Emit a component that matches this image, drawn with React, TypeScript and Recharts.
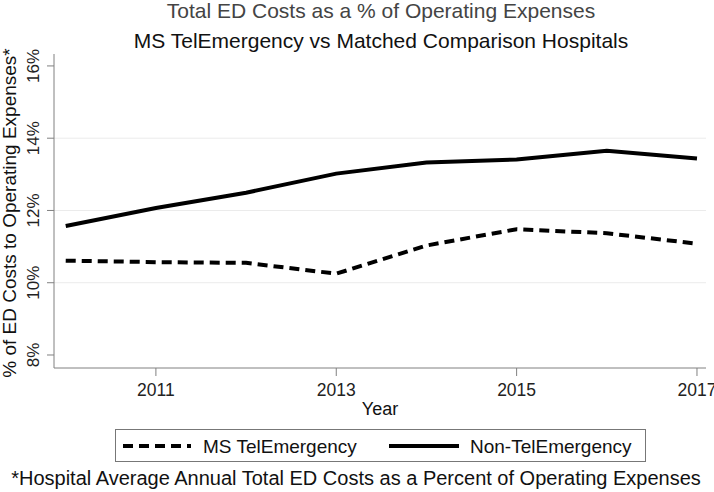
import { Line, LineChart, ReferenceLine, XAxis, YAxis } from "recharts";

const years = [2010, 2011, 2012, 2013, 2014, 2015, 2016, 2017];
const telEmergency = [10.61, 10.57, 10.55, 10.25, 11.03, 11.48, 11.37, 11.08];
const nonTelEmergency = [11.57, 12.07, 12.49, 13.02, 13.33, 13.41, 13.65, 13.44];
const yTicks = [8, 10, 12, 14, 16];
const xTicks = [2011, 2013, 2015, 2017];
const gridValues = [10, 12, 14];

const data = years.map((year, i) => ({
  year,
  tel: telEmergency[i],
  non: nonTelEmergency[i],
}));

const FONT = '"Liberation Sans", Arial, Helvetica, sans-serif';
const AXIS = "#808080";

function YTick({ y, payload }: any) {
  return (
    <text
      x={39}
      y={y}
      transform={`rotate(-90 39 ${y})`}
      textAnchor="middle"
      fontSize={17}
      fontFamily={FONT}
      fill="#222"
    >
      {payload.value}%
    </text>
  );
}

function XTick({ x, payload }: any) {
  return (
    <text x={x} y={396} textAnchor="middle" fontSize={17.5} fontFamily={FONT} fill="#222">
      {payload.value}
    </text>
  );
}

export default function App() {
  return (
    <div style={{ position: "relative", width: 714, height: 492, background: "#fff" }}>
      <style>{"body{margin:0}"}</style>
      <LineChart
        width={714}
        height={492}
        data={data}
        margin={{ top: 54, right: 8, bottom: 0, left: 0 }}
      >
        <XAxis
          dataKey="year"
          type="number"
          domain={[2009.87, 2017.1]}
          allowDataOverflow
          ticks={xTicks}
          tick={<XTick />}
          tickSize={8}
          height={124}
          stroke={AXIS}
          tickLine={{ stroke: AXIS }}
        />
        <YAxis
          type="number"
          domain={[7.64, 16.33]}
          allowDataOverflow
          ticks={yTicks}
          tick={<YTick />}
          tickSize={7}
          width={54}
          stroke={AXIS}
          tickLine={{ stroke: AXIS }}
        />
        {gridValues.map((v) => (
          <ReferenceLine key={v} y={v} stroke="#ebebeb" strokeWidth={1} />
        ))}
        <Line
          dataKey="tel"
          type="linear"
          stroke="#000"
          strokeWidth={4}
          strokeDasharray="10 6"
          dot={false}
          isAnimationActive={false}
        />
        <Line
          dataKey="non"
          type="linear"
          stroke="#000"
          strokeWidth={4}
          dot={false}
          isAnimationActive={false}
        />
      </LineChart>
      <svg
        width={714}
        height={492}
        style={{ position: "absolute", left: 0, top: 0, pointerEvents: "none" }}
        fontFamily={FONT}
      >
        <text x={381} y={18} textAnchor="middle" fontSize={21} fill="#444">
          Total ED Costs as a % of Operating Expenses
        </text>
        <text x={381} y={48} textAnchor="middle" fontSize={21} fill="#111">
          MS TelEmergency vs Matched Comparison Hospitals
        </text>
        <text
          x={16}
          y={213}
          transform="rotate(-90 16 213)"
          textAnchor="middle"
          fontSize={19}
          fill="#111"
        >
          % of ED Costs to Operating Expenses*
        </text>
        <text x={380} y={415} textAnchor="middle" fontSize={18} fill="#111">
          Year
        </text>
        <rect x={115.5} y={429.5} width={530} height={32} fill="#fff" stroke="#777" strokeWidth={1} />
        <line x1={123} y1={446} x2={191} y2={446} stroke="#000" strokeWidth={4} strokeDasharray="10 6" />
        <text x={203} y={453} fontSize={19} fill="#111">
          MS TelEmergency
        </text>
        <line x1={389} y1={446} x2={459} y2={446} stroke="#000" strokeWidth={4} />
        <text x={470} y={453} fontSize={19} fill="#111">
          Non-TelEmergency
        </text>
        <text x={356} y={485} textAnchor="middle" fontSize={20} fill="#111">
          *Hospital Average Annual Total ED Costs as a Percent of Operating Expenses
        </text>
      </svg>
    </div>
  );
}
